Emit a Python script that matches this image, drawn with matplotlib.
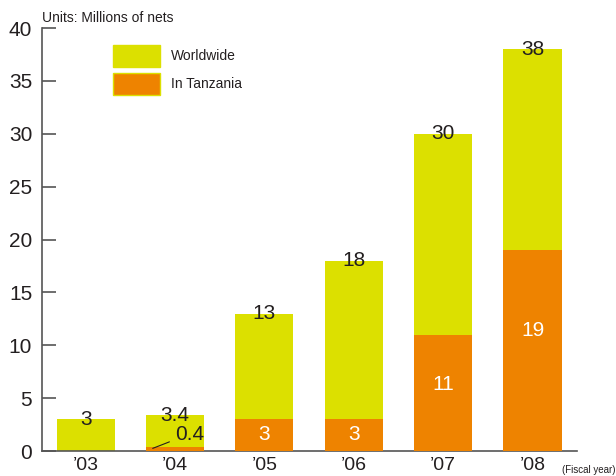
import matplotlib
matplotlib.use("Agg")
import matplotlib.pyplot as plt
from matplotlib.patches import Patch

years = ["’03", "’04", "’05", "’06", "’07", "’08"]
worldwide = [3, 3.4, 13, 18, 30, 38]
tanzania = [0, 0.4, 3, 3, 11, 19]
inner_labels = ["", "", "3", "3", "11", "19"]
inner_pos = [0, 0, 1.6, 1.6, 6.3, 11.4]

YELLOW = "#DCE000"
ORANGE = "#EE8300"
AXC = "#555555"
TXT = "#231F20"

plt.rcParams['font.family'] = ['Liberation Sans', 'DejaVu Sans']

fig = plt.figure(figsize=(6.16, 4.76), dpi=100)
ax = fig.add_axes([0.068, 0.0525, 0.869, 0.8885])

x = list(range(len(years)))
w = 0.65
ax.bar(x, worldwide, width=w, color=YELLOW, zorder=2)
ax.bar(x, tanzania, width=w, color=ORANGE, zorder=3)

for i, v in enumerate(worldwide):
    ax.text(i, v, f"{v:g}", ha="center", va="center", fontsize=15, color=TXT, zorder=5)
for i, lab in enumerate(inner_labels):
    if lab:
        ax.text(i, inner_pos[i], lab, ha="center", va="center", fontsize=15, color="white", zorder=5)

# small Tanzania '04 label with leader line
ax.annotate(f"{tanzania[1]:g}", xy=(1 - 0.25, tanzania[1] / 2 + 0.05), xytext=(1.16, 1.6),
            ha="center", va="center", fontsize=15, color=TXT, zorder=5,
            arrowprops=dict(arrowstyle="-", color=TXT, lw=0.8, shrinkA=2, shrinkB=0))

ax.set_xlim(-0.49, 5.5)
ax.set_ylim(0, 40)
ax.set_yticks(range(0, 41, 5))
ax.set_xticks(x)
ax.set_xticklabels(years)
ax.tick_params(axis="y", direction="in", length=10, width=1.2, color=AXC, pad=7,
               labelsize=15, labelcolor=TXT)
ax.tick_params(axis="x", length=0, pad=4, labelsize=14, labelcolor=TXT)
for s in ["top", "right"]:
    ax.spines[s].set_visible(False)
for s in ["left", "bottom"]:
    ax.spines[s].set_color(AXC)
    ax.spines[s].set_linewidth(1.2)

handles = [Patch(facecolor=YELLOW, edgecolor=YELLOW, label="Worldwide"),
           Patch(facecolor=ORANGE, edgecolor=YELLOW, label="In Tanzania")]
leg = ax.legend(handles=handles, loc="upper left", bbox_to_anchor=(0.109, 0.99),
                frameon=False, fontsize=10, handlelength=3.4, handleheight=2.1,
                handletextpad=0.8, labelspacing=0.4, labelcolor=TXT)

fig.text(0.068, 0.9475, "Units: Millions of nets", fontsize=10, color=TXT, va="bottom")
fig.text(0.999, 0.013, "(Fiscal year)", fontsize=7, color=TXT, ha="right", va="center")

fig.savefig("out.png", dpi=100)
